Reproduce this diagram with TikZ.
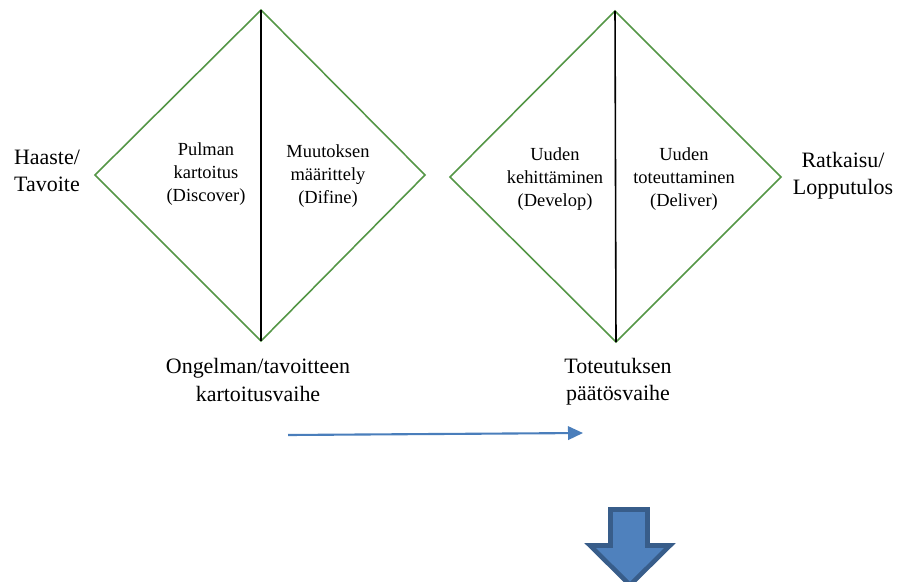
\documentclass[tikz,border=0pt]{standalone}
\usepackage{fontspec}
\setmainfont{Liberation Serif}
\usetikzlibrary{arrows.meta}
\definecolor{diagreen}{RGB}{84,150,70}
\definecolor{arrowblue}{RGB}{74,126,187}
\definecolor{blockblue}{RGB}{79,129,189}
\definecolor{blockedge}{RGB}{56,93,138}

\begin{document}
\begin{tikzpicture}[x = 0.02cm, y = -0.02cm,
            phase/.style = {draw = diagreen, line width = 0.9pt, line join = miter},
            divider/.style = {draw = black, line width = 0.9pt},
            sidetext/.style = {align = center, inner sep = 0pt, font = \fontsize{12.5}{15.5}\selectfont},
            innertext/.style = {align = center, inner sep = 0pt, font = \fontsize{10.5}{13}\selectfont}]
            \useasboundingbox (0,0) rectangle (898,581);

            % corners of the two diamonds
            \coordinate (top1) at (261,10);
            \coordinate (left1) at (95,175);
            \coordinate (right1) at (425,175);
            \coordinate (bot1) at (261,341);
            \coordinate (top2) at (615,11);
            \coordinate (left2) at (450,177);
            \coordinate (right2) at (781,177);
            \coordinate (bot2) at (616,342);

            \draw[phase] (top1) -- (right1) -- (bot1) -- (left1) -- cycle;
            \draw[divider] (top1) -- (bot1);
            \draw[phase] (top2) -- (right2) -- (bot2) -- (left2) -- cycle;
            \draw[divider] (top2) -- (bot2);

            \node[sidetext] (start) at (47,171) {Haaste/\\Tavoite};
            \node[innertext] (discover) at (206,174) {Pulman\\kartoitus\\(Discover)};
            \node[innertext] (define) at (328,176) {Muutoksen\\määrittely\\(Difine)};
            \node[innertext] (develop) at (555,179) {Uuden\\kehittäminen\\(Develop)};
            \node[innertext] (deliver) at (684,179) {Uuden\\toteuttaminen\\(Deliver)};
            \node[sidetext] (result) at (843,176) {Ratkaisu/\\Lopputulos};
            \node[sidetext] (phase1) at (258,380) {Ongelman/tavoitteen\\kartoitusvaihe};
            \node[sidetext] (phase2) at (618,382) {Toteutuksen\\päätösvaihe};

            % arrows
            \coordinate (from) at (288,435);
            \coordinate (to) at (583,433);
            \draw[arrowblue, line width = 1.2pt, -{Triangle[length = 0.3cm, width = 0.27cm]}] (from) -- (to);

            \draw[draw = blockedge, fill = blockblue, line width = 2.6pt, line join = miter]
            (610.5,509.5) -- (647.5,509.5) -- (647.5,545.5) -- (670,545.5)
            -- (630,585) -- (590,545.5) -- (610.5,545.5) -- cycle;
\end{tikzpicture}
\end{document}
